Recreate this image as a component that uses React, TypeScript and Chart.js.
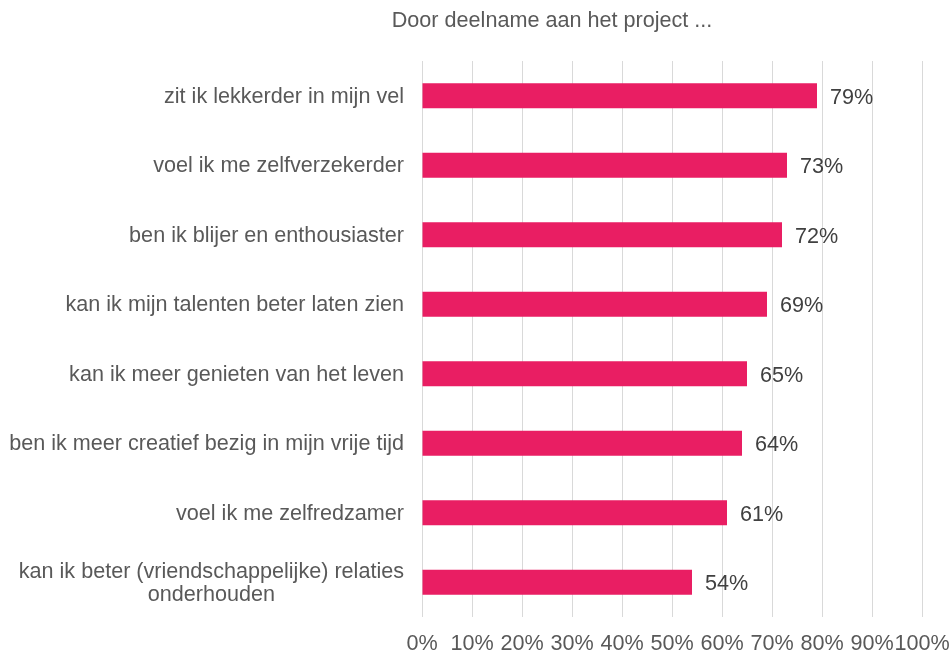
import React, { useEffect, useRef } from "react";
import { Chart, registerables } from "chart.js";

Chart.register(...registerables);

const titleText = "Door deelname aan het project ...";
const categories: (string | string[])[] = [
  "zit ik lekkerder in mijn vel",
  "voel ik me zelfverzekerder",
  "ben ik blijer en enthousiaster",
  "kan ik mijn talenten beter laten zien",
  "kan ik meer genieten van het leven",
  "ben ik meer creatief bezig in mijn vrije tijd",
  "voel ik me zelfredzamer",
  ["kan ik beter (vriendschappelijke) relaties", "onderhouden"],
];
const values = [0.79, 0.73, 0.72, 0.69, 0.65, 0.64, 0.61, 0.54];
const valueLabels = ["79%", "73%", "72%", "69%", "65%", "64%", "61%", "54%"];

const FONT = "'Liberation Sans', Arial, sans-serif";
const FS = 21.6;

const labelPlugin = {
  id: "customLabels",
  afterDraw(chart: any) {
    const ctx = chart.ctx;
    const yScale = chart.scales.y;
    const area = chart.chartArea;
    ctx.save();
    // title
    ctx.font = `${FS}px ${FONT}`;
    ctx.fillStyle = "#595959";
    ctx.textAlign = "center";
    ctx.textBaseline = "middle";
    ctx.fillText(titleText, 552, 21);
    // y category labels
    const right = area.left - 18;
    const lineH = 23;
    categories.forEach((cat, i) => {
      const y = yScale.getPixelForTick(i);
      const lines = Array.isArray(cat) ? cat : [cat];
      if (lines.length === 1) {
        ctx.textAlign = "right";
        ctx.fillText(lines[0], right, y + 1);
      } else {
        const w = Math.max(...lines.map((l) => ctx.measureText(l).width));
        const cx = right - w / 2;
        ctx.textAlign = "center";
        const start = y + 1 - ((lines.length - 1) * lineH) / 2;
        lines.forEach((l, k) => ctx.fillText(l, cx, start + k * lineH));
      }
    });
    // value labels
    const meta = chart.getDatasetMeta(0);
    ctx.fillStyle = "#404040";
    ctx.textAlign = "left";
    meta.data.forEach((bar: any, i: number) => {
      ctx.fillText(valueLabels[i], bar.x + 13, bar.y + 2);
    });
    ctx.restore();
  },
};

export default function App() {
  const ref = useRef<HTMLCanvasElement>(null);
  useEffect(() => {
    document.body.style.margin = "0";
    if (!ref.current) return;
    const chart = new Chart(ref.current, {
      type: "bar",
      data: {
        labels: categories as any,
        datasets: [
          {
            data: values,
            backgroundColor: "#E91E63",
            borderWidth: 0,
            barPercentage: 0.36,
            categoryPercentage: 1,
          },
        ],
      },
      options: {
        indexAxis: "y",
        animation: false,
        responsive: true,
        maintainAspectRatio: false,
        layout: { padding: { left: 0, right: 30, top: 61, bottom: 2 } },
        plugins: {
          legend: { display: false },
          tooltip: { enabled: false },
          title: { display: false },
        },
        scales: {
          x: {
            min: 0,
            max: 1,
            ticks: {
              stepSize: 0.1,
              color: "#595959",
              font: { family: FONT, size: FS },
              padding: 14,
              maxRotation: 0,
              autoSkip: false,
              callback: (v: any) => `${Math.round(Number(v) * 100)}%`,
            },
            grid: { color: "#d9d9d9", drawTicks: false, lineWidth: 1 },
            border: { display: false },
            afterFit: (scale: any) => {
              scale.height = 36;
              scale.paddingLeft = 0;
              scale.paddingRight = 0;
            },
          },
          y: {
            ticks: { color: "transparent", font: { family: FONT, size: 10 } },
            grid: { display: false, drawTicks: false },
            border: { display: false },
            afterFit: (scale: any) => {
              scale.width = 422;
              scale.paddingTop = 0;
              scale.paddingBottom = 0;
            },
          },
        },
      },
      plugins: [labelPlugin],
    });
    return () => chart.destroy();
  }, []);
  return (
    <div style={{ width: 952, height: 655, position: "relative" }}>
      <canvas ref={ref} />
    </div>
  );
}
